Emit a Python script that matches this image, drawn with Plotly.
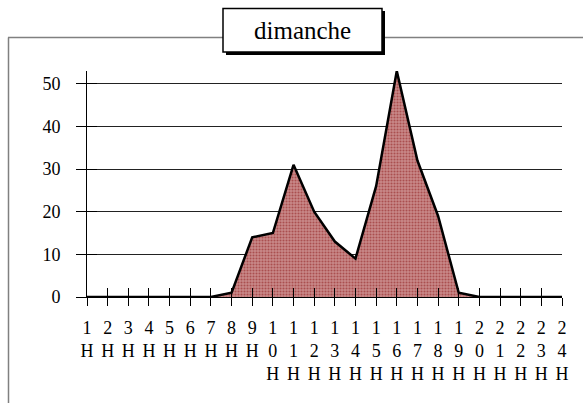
import plotly.graph_objects as go

# ---- data ----
hours = ["1H", "2H", "3H", "4H", "5H", "6H", "7H", "8H", "9H", "10H", "11H", "12H",
         "13H", "14H", "15H", "16H", "17H", "18H", "19H", "20H", "21H", "22H", "23H", "24H"]
values = [0, 0, 0, 0, 0, 0, 0, 1, 14, 15, 31, 20, 13, 9, 26, 53, 32, 19, 1, 0, 0, 0, 0, 0]
y_ticks = [0, 10, 20, 30, 40, 50]
title_text = "dimanche"

# stacked tick labels (one character per line)
tick_text = ["<br>".join(list(h)) for h in hours]

W, H = 583, 403
L, R, T, B = 87, 21, 71, 106
pw, ph = W - L - R, H - T - B


def px(x):
    return (x - L) / pw


def py(y):
    return (H - B - y) / ph


FONT = "Liberation Serif"

fig = go.Figure()
fig.add_trace(go.Scatter(
    x=hours, y=values, mode="lines", fill="tozeroy",
    line=dict(color="black", width=2.5),
    fillcolor="#b86a6a",
    fillpattern=dict(shape=".", fgcolor="#8b1414", bgcolor="#c98a8a", size=3, solidity=0.4),
    hoverinfo="skip", showlegend=False,
))
# invisible trace for overlay axes (inside ticks)
fig.add_trace(go.Scatter(
    x=hours, y=values, mode="lines", line=dict(width=0, color="rgba(0,0,0,0)"),
    xaxis="x2", yaxis="y2", hoverinfo="skip", showlegend=False,
))

fig.update_layout(
    width=W, height=H,
    margin=dict(l=L, r=R, t=T, b=B),
    paper_bgcolor="white", plot_bgcolor="white",
    font=dict(family=FONT, size=18, color="black"),
    xaxis=dict(
        type="category", categoryorder="array", categoryarray=hours,
        range=[0, len(hours) - 1],
        tickmode="array", tickvals=hours, ticktext=tick_text,
        ticks="outside", ticklen=8, tickcolor="black", tickwidth=1,
        showline=True, linecolor="black", linewidth=1,
        showgrid=False, zeroline=False, tickangle=0,
        tickfont=dict(family=FONT, size=18),
        ticklabelstandoff=6,
    ),
    yaxis=dict(
        range=[0, 53], tickvals=y_ticks,
        ticks="outside", ticklen=10, tickcolor="black", tickwidth=1,
        showline=True, linecolor="black", linewidth=1,
        showgrid=True, gridcolor="#222", gridwidth=1,
        zeroline=False,
        tickfont=dict(family=FONT, size=18),
        ticklabelstandoff=12,
    ),
    xaxis2=dict(
        type="category", categoryorder="array", categoryarray=hours,
        range=[0, len(hours) - 1], overlaying="x", anchor="y2",
        tickmode="array", tickvals=hours, showticklabels=False,
        ticks="inside", ticklen=9, tickcolor="black", tickwidth=1,
        showline=False, showgrid=False, zeroline=False,
    ),
    yaxis2=dict(
        range=[0, 53], overlaying="y", anchor="x2", side="left",
        tickvals=y_ticks, showticklabels=False,
        ticks="inside", ticklen=10, tickcolor="black", tickwidth=1,
        showline=False, showgrid=False, zeroline=False,
    ),
    shapes=[
        # outer frame lines
        dict(type="line", xref="paper", yref="paper", x0=px(8), x1=px(590), y0=py(37.5), y1=py(37.5),
             line=dict(color="#808080", width=1.5)),
        dict(type="line", xref="paper", yref="paper", x0=px(8.5), x1=px(8.5), y0=py(37.5), y1=py(410),
             line=dict(color="#808080", width=1.5)),
        # title box shadow
        dict(type="rect", xref="paper", yref="paper", x0=px(226), x1=px(385), y0=py(55), y1=py(11),
             fillcolor="black", line=dict(width=0)),
        # title box
        dict(type="rect", xref="paper", yref="paper", x0=px(223), x1=px(382), y0=py(52), y1=py(8.5),
             fillcolor="white", line=dict(color="black", width=1.5)),
    ],
    annotations=[
        dict(text=title_text, xref="paper", yref="paper", x=px(302.5), y=py(30),
             xanchor="center", yanchor="middle", showarrow=False,
             font=dict(family=FONT, size=25, color="black")),
    ],
)

fig.write_html("out.html")
